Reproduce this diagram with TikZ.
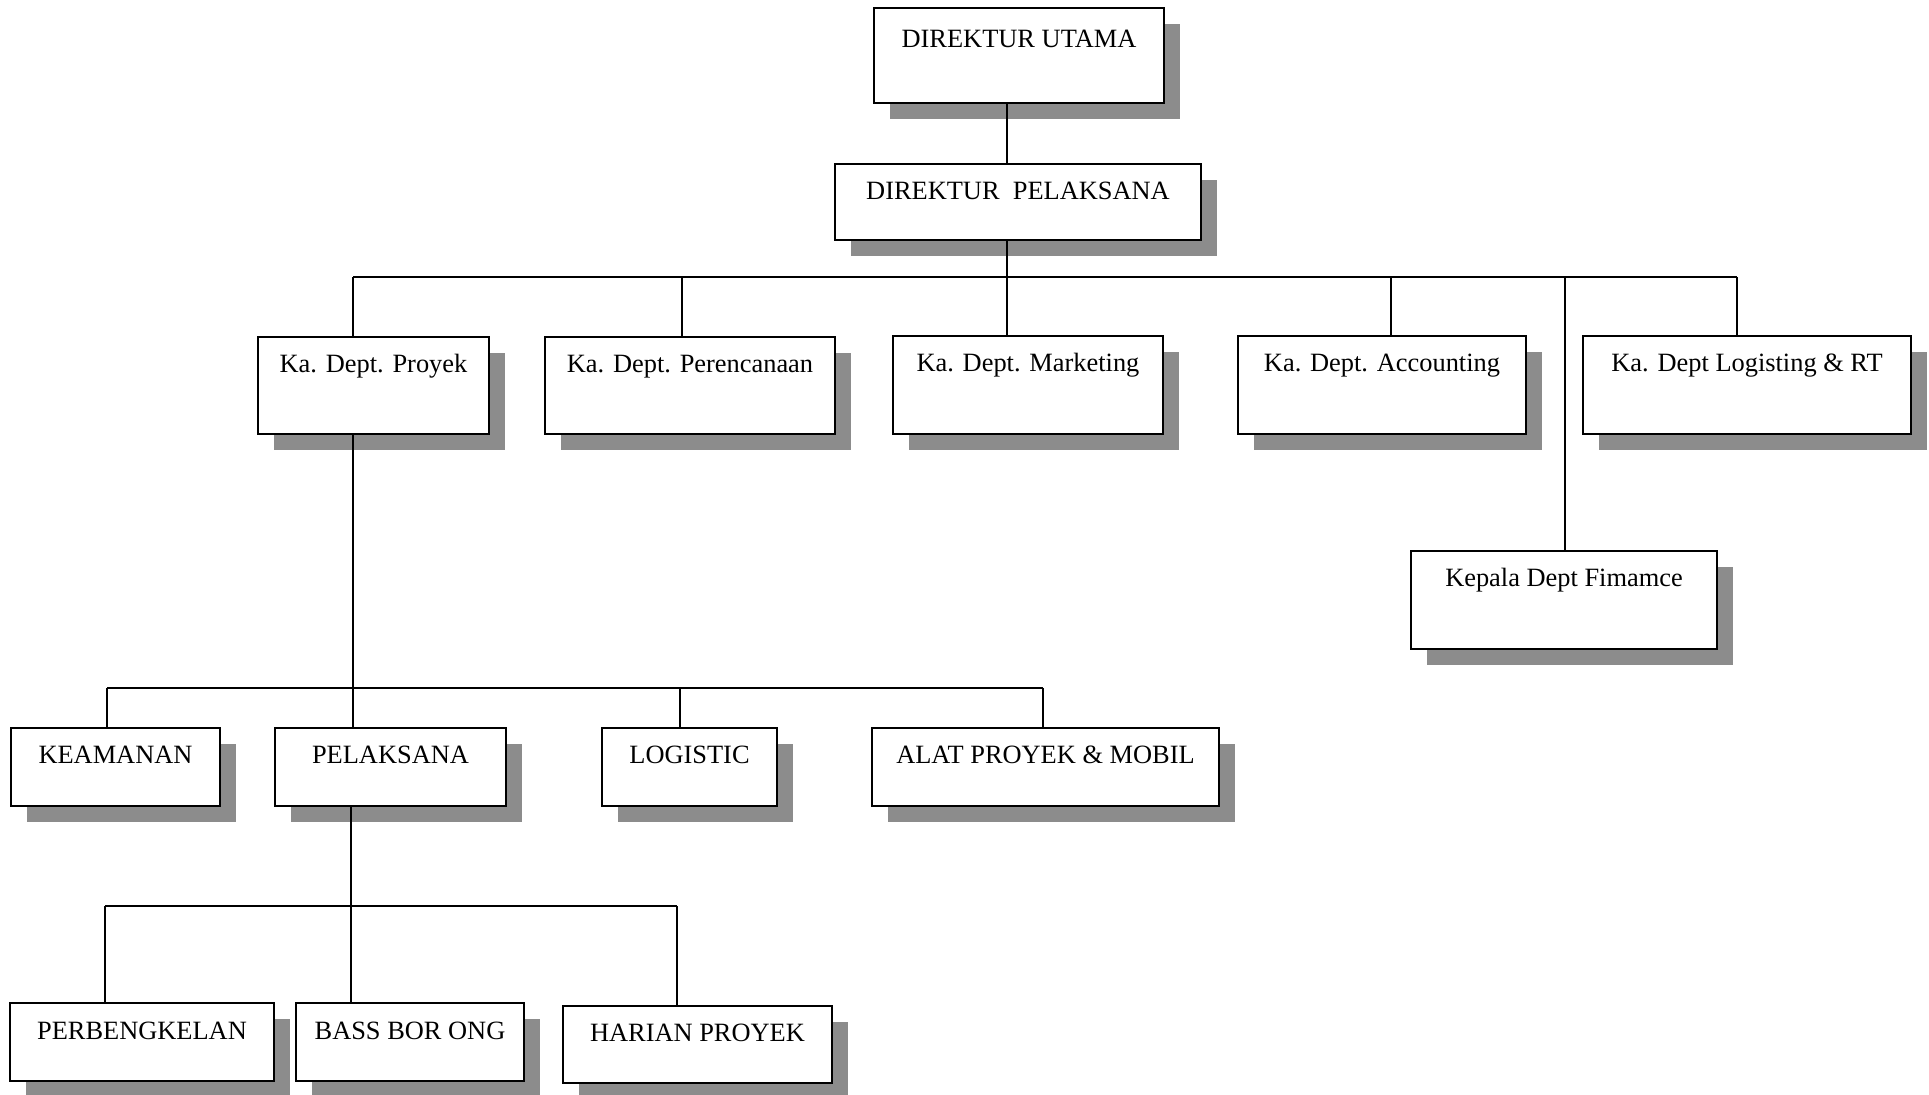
\documentclass[tikz,border=0pt]{standalone}
\usepackage{fontspec}
\setmainfont{Liberation Serif}
\usepackage{tikz}
\usetikzlibrary{calc,positioning,shadows}
\newcommand{\colorShadow}{black!45}
\tikzset{
  unit/.style 2 args={draw, line width=1pt, fill=white, anchor=north west,
    inner xsep=0pt, inner ysep=0pt, minimum width=#1, text height=18pt, text depth=#2,
    font=\fontsize{13.2pt}{15pt}\selectfont,
    general shadow={fill=\colorShadow, shadow xshift=8pt, shadow yshift=-8pt}},
  link/.style={line width=0.8pt}
}
\begin{document}
\begin{tikzpicture}[x=0.5pt, y=-0.5pt]
        \useasboundingbox (0, 0) rectangle (1929, 1095);

        \node[unit={145pt}{27.5pt}, text height=20pt] (du) at (873, 7) {DIREKTUR UTAMA};
        \node[unit={183pt}{20pt}] (dp) at (834, 163) {DIREKTUR\ \ PELAKSANA};

        \node[unit={115.5pt}{30.5pt}] (kproyek) at (257, 336) {Ka. Dept. Proyek};
        \node[unit={145pt}{30.5pt}] (kperencanaan) at (544, 336) {Ka. Dept. Perencanaan};
        \node[unit={135pt}{31pt}] (kmarketing) at (892, 335) {Ka. Dept. Marketing};
        \node[unit={144pt}{31pt}] (kaccounting) at (1237, 335) {Ka. Dept. Accounting};
        \node[unit={164pt}{31pt}] (klogisting) at (1582, 335) {Ka. Dept Logisting \& RT};
        \node[unit={153pt}{31pt}] (kfinance) at (1410, 550) {Kepala Dept Fimamce};

        \node[unit={104.5pt}{21pt}] (keamanan) at (10, 727) {KEAMANAN};
        \node[unit={115.5pt}{21pt}] (pelaksana) at (274, 727) {PELAKSANA};
        \node[unit={87.5pt}{21pt}] (logistic) at (601, 727) {LOGISTIC};
        \node[unit={173.5pt}{21pt}] (alat) at (871, 727) {ALAT PROYEK \& MOBIL};

        \node[unit={132pt}{21pt}] (perbengkelan) at (9, 1002) {PERBENGKELAN};
        \node[unit={114pt}{21pt}] (borong) at (295, 1002) {BASS BOR ONG};
        \node[unit={134.5pt}{20.5pt}] (harian) at (562, 1005) {HARIAN PROYEK};

        \coordinate (a1) at (353, 277);
        \coordinate (a2) at (682, 277);
        \coordinate (a3) at (1007, 277);
        \coordinate (a4) at (1391, 277);
        \coordinate (a5) at (1565, 277);
        \coordinate (a6) at (1737, 277);

        \coordinate (b1) at (107, 688);
        \coordinate (b2) at (353, 688);
        \coordinate (b3) at (680, 688);
        \coordinate (b4) at (1043, 688);

        \coordinate (c1) at (105, 906);
        \coordinate (c2) at (351, 906);
        \coordinate (c3) at (677, 906);

        \draw[link] (a3 |- du.south) -- (a3 |- dp.north);
        \draw[link] (a3 |- dp.south) -- (a3 |- kmarketing.north);
        \draw[link] (a1) -- (a6);
        \draw[link] (a1) -- (a1 |- kproyek.north);
        \draw[link] (a2) -- (a2 |- kperencanaan.north);
        \draw[link] (a4) -- (a4 |- kaccounting.north);
        \draw[link] (a5) -- (a5 |- kfinance.north);
        \draw[link] (a6) -- (a6 |- klogisting.north);

        \draw[link] (b2 |- kproyek.south) -- (b2 |- pelaksana.north);
        \draw[link] (b1) -- (b4);
        \draw[link] (b1) -- (b1 |- keamanan.north);
        \draw[link] (b3) -- (b3 |- logistic.north);
        \draw[link] (b4) -- (b4 |- alat.north);

        \draw[link] (c2 |- pelaksana.south) -- (c2 |- borong.north);
        \draw[link] (c1) -- (c3);
        \draw[link] (c1) -- (c1 |- perbengkelan.north);
        \draw[link] (c3) -- (c3 |- harian.north);

      \end{tikzpicture}
\end{document}
